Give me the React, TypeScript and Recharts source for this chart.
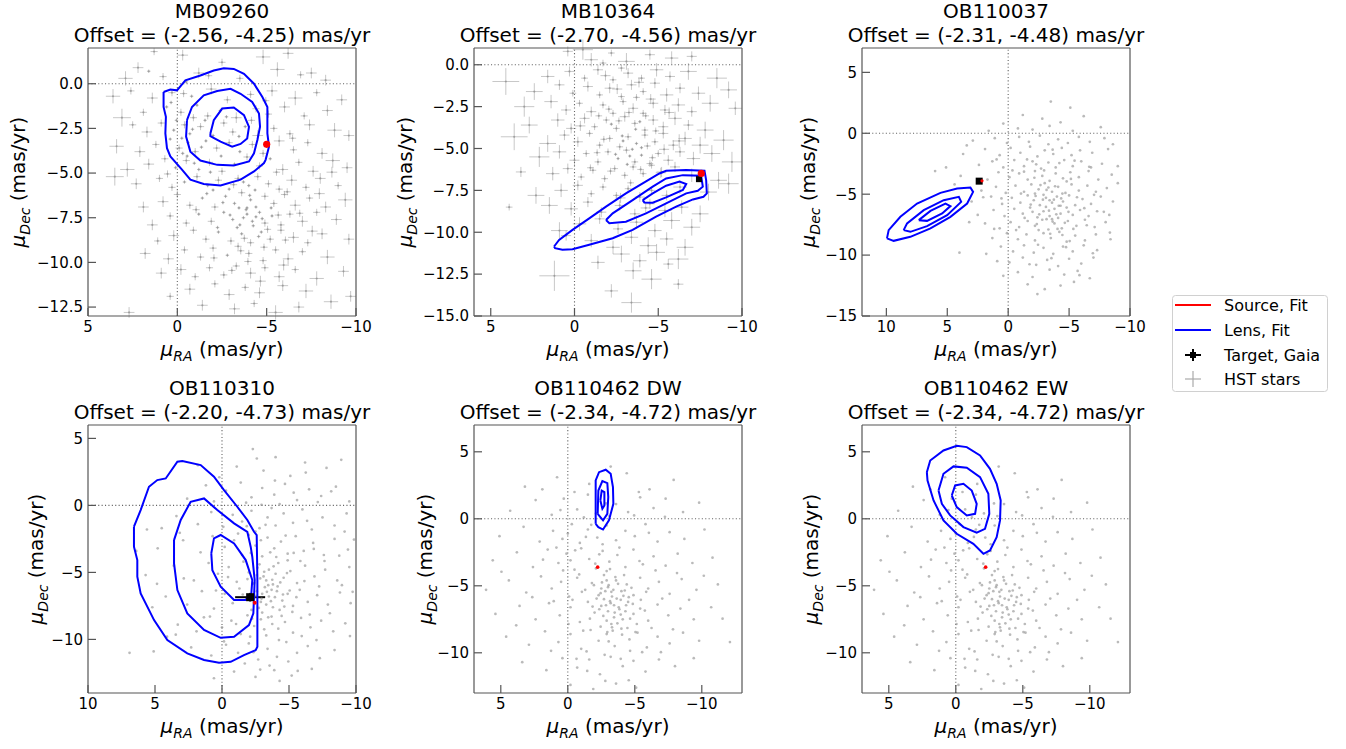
import React from "react";
import { ScatterChart, Scatter, XAxis, YAxis, ReferenceLine, ErrorBar } from "recharts";

type Pt = number[];

// HST stars with error bars: [muRA, muDec, err] (mas/yr)
const mb09260Stars: Pt[] = [
  [-0.3,1.6,0.3],[-2.5,1.2,0.2],[-4.8,1.5,0.4],[2.2,0.9,0.3],[-7.5,0.6,0.3],[1.3,1.8,0.2],[-6.2,1.7,0.3],
  [0.8,0.4,0.2],[-1.2,0.6,0.3],[-3.5,0.3,0.2],[-5.6,0.8,0.4],[-8.3,0.2,0.3],[2.9,0.3,0.4],[-0.5,0.1,0.1],[-6.9,0.5,0.2],[1.6,0.7,0.1],
  [0.3,-0.5,0.2],[-0.8,-0.7,0.1],[-1.9,-0.3,0.3],[-2.8,-0.9,0.2],[-4.1,-0.6,0.2],[-5.3,-0.4,0.3],[-6.6,-0.8,0.4],[-7.8,-0.5,0.2],[1.4,-0.8,0.3],[2.6,-0.4,0.2],[-9.2,-0.9,0.3],[3.6,-0.7,0.4],
  [0.6,-1.3,0.1],[-0.2,-1.6,0.2],[-1.1,-1.2,0.1],[-1.7,-1.8,0.2],[-2.4,-1.5,0.1],[-3.3,-1.9,0.3],[-4.4,-1.4,0.2],[-5.1,-1.7,0.2],[-6.0,-1.3,0.3],[-7.1,-1.8,0.2],[-8.4,-1.5,0.3],[1.9,-1.6,0.2],[3.1,-1.9,0.5],[-0.9,-1.9,0.2],
  [0.9,-2.2,0.2],[0.2,-2.6,0.1],[-0.4,-2.3,0.2],[-0.7,-2.8,0.1],[-1.3,-2.4,0.2],[-2.0,-2.9,0.1],[-2.6,-2.2,0.2],[-3.1,-2.7,0.2],[-3.8,-2.4,0.1],[-4.5,-2.9,0.3],[-5.4,-2.5,0.2],[-6.3,-2.8,0.2],[-7.4,-2.3,0.3],[-8.8,-2.6,0.4],[1.7,-2.7,0.3],[2.5,-2.3,0.2],[-9.6,-2.9,0.3],
  [1.2,-3.4,0.2],[0.4,-3.1,0.1],[-0.1,-3.6,0.2],[-0.6,-3.3,0.1],[-1.0,-3.8,0.2],[-1.6,-3.2,0.1],[-2.2,-3.6,0.2],[-2.9,-3.3,0.2],[-3.5,-3.8,0.1],[-4.2,-3.4,0.2],[-4.8,-3.9,0.2],[-5.7,-3.2,0.3],[-6.5,-3.7,0.2],[-7.3,-3.3,0.2],[-8.1,-3.9,0.3],[2.1,-3.8,0.3],[3.4,-3.5,0.4],[-0.3,-3.9,0.1],
  [1.6,-4.5,0.3],[0.7,-4.2,0.2],[0.1,-4.7,0.1],[-0.5,-4.3,0.2],[-1.2,-4.8,0.1],[-1.8,-4.4,0.2],[-2.5,-4.9,0.2],[-3.2,-4.5,0.1],[-3.9,-4.1,0.2],[-4.6,-4.6,0.2],[-5.2,-4.2,0.1],[-5.9,-4.8,0.3],[-6.8,-4.4,0.2],[-7.6,-4.9,0.3],[-8.7,-4.3,0.4],[2.8,-4.8,0.4],[-9.5,-4.7,0.3],
  [1.0,-5.3,0.2],[0.3,-5.8,0.2],[-0.4,-5.5,0.1],[-1.1,-5.2,0.2],[-1.7,-5.7,0.1],[-2.3,-5.4,0.2],[-2.9,-5.9,0.1],[-3.4,-5.3,0.2],[-4.0,-5.7,0.1],[-4.5,-5.2,0.2],[-5.1,-5.6,0.2],[-5.7,-5.9,0.2],[-6.4,-5.4,0.3],[-7.2,-5.8,0.2],[-8.0,-5.3,0.3],[-9.0,-5.7,0.2],[2.3,-5.6,0.3],[3.5,-5.2,0.5],[-2.0,-5.95,0.1],[-3.7,-5.5,0.1],
  [0.8,-6.6,0.3],[0.0,-6.2,0.2],[-0.7,-6.8,0.2],[-1.4,-6.4,0.1],[-2.1,-6.9,0.2],[-2.7,-6.3,0.1],[-3.2,-6.7,0.1],[-3.6,-6.1,0.2],[-4.1,-6.5,0.1],[-4.4,-6.9,0.1],[-4.9,-6.3,0.2],[-5.4,-6.7,0.2],[-6.0,-6.2,0.2],[-6.6,-6.8,0.3],[-7.4,-6.4,0.2],[-8.3,-6.9,0.3],[1.9,-6.9,0.3],[-3.9,-6.95,0.1],[-9.4,-6.5,0.4],
  [0.4,-7.4,0.2],[-0.5,-7.8,0.2],[-1.2,-7.3,0.1],[-1.9,-7.7,0.2],[-2.6,-7.2,0.1],[-3.1,-7.6,0.1],[-3.5,-7.9,0.1],[-3.9,-7.3,0.1],[-4.2,-7.7,0.1],[-4.6,-7.2,0.1],[-4.9,-7.8,0.2],[-5.3,-7.4,0.1],[-5.8,-7.9,0.2],[-6.3,-7.3,0.2],[-7.0,-7.7,0.3],[-7.8,-7.2,0.2],[-8.9,-7.6,0.3],[1.4,-7.9,0.3],[-4.4,-7.45,0.1],[-3.7,-7.5,0.1],
  [0.2,-8.5,0.3],[-0.9,-8.2,0.2],[-1.6,-8.7,0.2],[-2.3,-8.3,0.1],[-3.0,-8.8,0.2],[-3.6,-8.4,0.1],[-4.1,-8.9,0.2],[-4.7,-8.3,0.1],[-5.2,-8.7,0.2],[-5.8,-8.2,0.2],[-6.5,-8.6,0.3],[-7.3,-8.9,0.2],[-8.1,-8.4,0.3],[1.1,-8.8,0.2],[-9.6,-8.7,0.3],
  [0.5,-9.8,0.3],[-0.4,-9.3,0.2],[-1.3,-9.7,0.2],[-2.0,-9.2,0.2],[-2.8,-9.6,0.1],[-3.4,-9.1,0.2],[-4.0,-9.5,0.2],[-4.8,-9.9,0.2],[-5.5,-9.3,0.2],[-6.2,-9.8,0.3],[-7.0,-9.4,0.2],[-8.4,-9.7,0.4],[1.8,-9.5,0.3],
  [-0.2,-10.4,0.3],[-1.0,-10.8,0.2],[-1.8,-10.3,0.2],[-2.6,-10.7,0.2],[-3.3,-10.2,0.2],[-4.1,-10.6,0.3],[-4.9,-10.3,0.2],[-5.7,-10.8,0.3],[-6.6,-10.4,0.2],[-7.8,-10.9,0.4],[0.9,-10.6,0.3],[-9.3,-10.5,0.3],
  [-0.7,-11.5,0.3],[-2.1,-11.2,0.2],[-2.9,-11.8,0.3],[-3.8,-11.4,0.2],[-4.6,-11.7,0.3],[-5.9,-11.3,0.3],[-7.2,-11.6,0.4],[0.4,-11.9,0.2],[-9.7,-11.9,0.3],
  [-1.4,-12.4,0.3],[-3.2,-12.6,0.3],[-4.3,-12.3,0.2],[-5.5,-12.8,0.4],[-6.8,-12.5,0.3],[2.7,-12.8,0.3],[-8.6,-12.2,0.4],
  [-3.85,-7.05,0.1],[-4.25,-7.95,0.1],[-3.35,-8.05,0.1],[-4.75,-7.55,0.1],[-4.05,-6.25,0.1],[-3.45,-6.95,0.1],[-5.05,-8.15,0.2],[-2.95,-7.35,0.1],[-4.55,-8.55,0.1],[-3.75,-8.65,0.2],
  [-5.25,-6.95,0.1],[-2.55,-6.65,0.1],[-4.35,-5.95,0.1],[-3.15,-5.65,0.2],[-5.65,-7.35,0.2],[-2.25,-8.05,0.1],[-4.85,-9.15,0.2],[-3.55,-9.35,0.2],[-6.05,-8.75,0.2],[-1.65,-6.15,0.1],
  [-0.25,-3.05,0.1],[-0.85,-2.55,0.1],[-0.55,-4.05,0.1],[0.05,-2.05,0.1],[-1.35,-3.55,0.1],[-0.95,-4.45,0.1],[-1.55,-2.05,0.1],[0.35,-1.05,0.1],[-0.35,-0.55,0.2],[-1.85,-4.95,0.1],
  [-2.45,-4.05,0.1],[-3.45,-2.95,0.1],[-2.75,-1.85,0.1],[-4.15,-2.05,0.2],[-5.55,-4.95,0.2],[-6.15,-6.05,0.2],[-6.85,-7.25,0.2],[-7.55,-8.25,0.3],[-5.95,-10.15,0.3],[-3.05,-10.45,0.2],
  [-2.05,-9.75,0.2],[-1.05,-7.05,0.2],[0.55,-5.05,0.2],[-7.95,-6.15,0.3],[-8.65,-4.95,0.3],[-6.45,-3.05,0.2],[-4.95,-0.95,0.2],[-1.75,0.45,0.2],[-3.95,-9.95,0.2],[-4.65,-11.05,0.3],
];

const mb10364Stars: Pt[] = [
  [0.4,0.8,0.3],[-1.0,0.3,0.4],[-2.2,0.7,0.2],[-3.1,0.2,0.5],[-4.5,0.6,0.3],[-5.8,0.4,0.4],[-0.5,0.9,0.6],[-7.0,0.5,0.3],[-1.7,0.1,0.2],
  [1.6,-0.7,0.4],[0.3,-0.4,0.3],[-0.6,-0.8,0.2],[-1.4,-0.3,0.3],[-2.3,-0.9,0.2],[-3.2,-0.5,0.3],[-4.0,-0.8,0.2],[-4.9,-0.3,0.4],[-5.7,-0.7,0.3],[-6.8,-0.4,0.5],[-8.5,-0.8,0.6],[4.1,-1.0,0.8],[-2.8,-0.2,0.2],
  [2.4,-1.6,0.5],[0.9,-1.2,0.3],[0.1,-1.7,0.2],[-0.8,-1.3,0.3],[-1.5,-1.8,0.2],[-2.1,-1.4,0.3],[-2.8,-1.9,0.2],[-3.4,-1.2,0.3],[-4.1,-1.6,0.2],[-4.8,-1.1,0.3],[-5.5,-1.8,0.4],[-6.3,-1.4,0.3],[-7.4,-1.7,0.4],[-9.2,-1.5,0.5],[-3.7,-1.95,0.2],
  [3.0,-2.5,0.6],[1.4,-2.2,0.4],[0.5,-2.7,0.3],[-0.3,-2.3,0.2],[-1.0,-2.8,0.3],[-1.7,-2.4,0.2],[-2.3,-2.9,0.2],[-2.9,-2.2,0.2],[-3.5,-2.6,0.3],[-4.1,-2.9,0.2],[-4.7,-2.3,0.3],[-5.4,-2.7,0.3],[-6.2,-2.4,0.4],[-7.0,-2.8,0.3],[-8.1,-2.3,0.5],[-9.6,-2.6,0.4],
  [2.7,-3.6,0.5],[1.0,-3.3,0.4],[0.2,-3.8,0.3],[-0.6,-3.2,0.3],[-1.2,-3.7,0.2],[-1.9,-3.3,0.2],[-2.5,-3.8,0.2],[-3.0,-3.1,0.3],[-3.6,-3.5,0.2],[-4.2,-3.9,0.2],[-4.7,-3.3,0.3],[-5.3,-3.7,0.3],[-6.0,-3.2,0.4],[-6.8,-3.6,0.3],[-7.8,-3.9,0.5],[-2.2,-3.55,0.1],[-3.9,-3.4,0.1],
  [3.6,-4.3,0.8],[1.6,-4.7,0.5],[0.6,-4.2,0.3],[-0.2,-4.6,0.3],[-0.9,-4.1,0.2],[-1.5,-4.8,0.2],[-2.1,-4.4,0.2],[-2.7,-4.9,0.2],[-3.2,-4.3,0.2],[-3.7,-4.7,0.1],[-4.2,-4.2,0.2],[-4.8,-4.6,0.2],[-5.3,-4.1,0.3],[-5.9,-4.8,0.3],[-6.6,-4.4,0.4],[-7.5,-4.8,0.5],[-8.9,-4.5,0.6],[-2.9,-4.55,0.1],[-4.0,-4.95,0.1],
  [2.1,-5.5,0.6],[0.9,-5.2,0.4],[0.0,-5.7,0.3],[-0.7,-5.3,0.2],[-1.4,-5.8,0.2],[-2.0,-5.2,0.2],[-2.6,-5.6,0.1],[-3.1,-5.1,0.2],[-3.6,-5.8,0.2],[-4.0,-5.4,0.1],[-4.5,-5.9,0.2],[-5.0,-5.3,0.2],[-5.6,-5.7,0.3],[-6.3,-5.2,0.3],[-7.1,-5.6,0.4],[-8.2,-5.3,0.5],[-3.3,-5.45,0.1],[-9.4,-5.8,0.6],
  [1.3,-6.5,0.4],[0.4,-6.2,0.3],[-0.4,-6.7,0.2],[-1.1,-6.3,0.2],[-1.8,-6.8,0.2],[-2.4,-6.2,0.2],[-3.0,-6.6,0.2],[-3.5,-6.1,0.2],[-4.1,-6.5,0.2],[-4.6,-6.0,0.2],[-5.2,-6.4,0.3],[-6.0,-6.1,0.3],[-7.0,-6.6,0.4],[-8.6,-6.9,0.5],[3.2,-6.4,0.3],
  [0.8,-7.5,0.4],[-0.2,-7.2,0.3],[-1.0,-7.7,0.2],[-1.7,-7.3,0.2],[-2.5,-7.8,0.2],[-3.2,-7.4,0.2],[-3.9,-7.9,0.3],[-4.6,-7.5,0.2],[-5.5,-7.8,0.3],[-6.3,-7.3,0.4],[-8.0,-7.6,0.5],[-9.2,-7.1,0.6],[2.3,-7.8,0.5],
  [0.2,-8.6,0.4],[-0.8,-8.2,0.3],[-1.6,-8.8,0.3],[-2.7,-8.4,0.3],[-3.6,-8.9,0.3],[-4.5,-8.3,0.3],[-5.4,-8.7,0.4],[-6.4,-8.5,0.4],[-7.5,-8.9,0.5],[1.5,-8.4,0.5],
  [-0.3,-9.5,0.4],[-1.5,-9.2,0.3],[-2.6,-9.8,0.3],[-3.7,-9.4,0.4],[-4.8,-9.9,0.4],[-5.8,-9.3,0.5],[-7.0,-9.7,0.5],[0.9,-9.9,0.5],
  [-1.0,-10.5,0.4],[-2.3,-10.9,0.4],[-3.4,-10.3,0.4],[-4.4,-10.8,0.5],[-5.5,-10.4,0.4],[-6.6,-10.9,0.5],[0.5,-10.2,0.3],
  [-2.8,-11.3,0.5],[-3.9,-11.7,0.4],[-4.9,-11.2,0.5],[-6.2,-11.6,0.6],[-1.4,-11.8,0.4],[-5.6,-11.9,0.3],
  [1.2,-12.6,0.9],[-3.5,-12.3,0.5],[-4.6,-12.8,0.6],[-6.2,-13.1,0.3],[-3.4,-14.2,0.6],[-2.2,-13.5,0.4],[3.9,-8.5,0.2],
  [-2.85,-4.25,0.1],[-3.45,-5.05,0.1],[-4.35,-4.85,0.2],[-3.15,-5.95,0.1],[-2.45,-5.35,0.1],[-3.95,-6.25,0.2],[-4.65,-5.55,0.2],[-2.15,-6.35,0.2],[-3.65,-3.85,0.1],[-1.75,-4.45,0.2],
  [-4.85,-3.95,0.2],[-2.65,-3.35,0.2],[-5.35,-5.05,0.3],[-1.35,-5.25,0.2],[-3.25,-2.85,0.2],[-4.25,-3.05,0.2],[-2.05,-2.65,0.2],[-1.45,-3.05,0.2],[-5.15,-6.45,0.3],[-3.35,-7.05,0.2],
  [-0.95,-6.15,0.2],[-0.35,-3.65,0.3],[-2.55,-1.45,0.3],[-4.55,-2.05,0.3],[-3.85,-1.05,0.3],[-1.85,-0.65,0.3],[-5.65,-2.85,0.3],[-6.25,-4.55,0.4],[-2.75,-7.95,0.3],[-4.25,-8.55,0.3],
];

// dot-only star fields: [muRA, muDec]
const ob110037Stars: Pt[] = [
  [-3.5,2.6],[-5.1,2.1],[-1.2,1.5],[-2.8,1.2],[-4.3,0.9],[-6.2,1.4],[0.4,0.8],[-7.6,0.5],[-2.0,0.3],[-3.4,0.6],[-5.3,0.2],[1.6,0.2],[-0.8,0.4],
  [2.9,-0.6],[1.1,-0.4],[0.1,-0.8],[-0.9,-0.3],[-1.7,-0.7],[-2.6,-0.2],[-3.3,-0.9],[-4.1,-0.5],[-4.9,-0.8],[-5.8,-0.3],[-6.7,-0.7],[-7.9,-0.4],[-8.6,-0.9],
  [3.7,-1.7],[1.9,-1.3],[0.7,-1.8],[-0.2,-1.2],[-1.0,-1.6],[-1.8,-1.1],[-2.4,-1.9],[-3.0,-1.4],[-3.7,-1.7],[-4.4,-1.2],[-5.2,-1.8],[-5.9,-1.4],[-6.9,-1.6],[-8.2,-1.3],
  [2.4,-2.6],[1.3,-2.3],[0.4,-2.8],[-0.5,-2.2],[-1.3,-2.7],[-2.0,-2.3],[-2.7,-2.9],[-3.3,-2.4],[-3.9,-2.8],[-4.6,-2.2],[-5.3,-2.7],[-6.0,-2.3],[-6.8,-2.8],[-7.7,-2.5],[-9.0,-2.7],[-2.3,-2.55],[-4.2,-2.45],
  [3.9,-3.5],[1.7,-3.8],[0.8,-3.2],[-0.1,-3.6],[-0.9,-3.3],[-1.6,-3.8],[-2.2,-3.1],[-2.8,-3.5],[-3.4,-3.9],[-3.9,-3.3],[-4.5,-3.7],[-5.1,-3.2],[-5.8,-3.6],[-6.6,-3.1],[-7.4,-3.8],[-8.5,-3.4],[-1.3,-3.15],[-4.8,-3.95],
  [4.4,-4.2],[2.2,-4.7],[1.0,-4.4],[0.2,-4.9],[-0.6,-4.3],[-1.3,-4.8],[-1.9,-4.2],[-2.5,-4.6],[-3.0,-4.1],[-3.6,-4.8],[-4.1,-4.4],[-4.7,-4.9],[-5.2,-4.2],[-5.8,-4.7],[-6.5,-4.3],[-7.2,-4.8],[-8.1,-4.5],[-9.0,-4.1],[-2.2,-4.95],[-3.3,-4.45],
  [3.0,-5.6],[1.4,-5.2],[0.5,-5.8],[-0.3,-5.3],[-1.0,-5.7],[-1.6,-5.1],[-2.1,-5.5],[-2.6,-5.9],[-3.1,-5.3],[-3.6,-5.7],[-4.0,-5.2],[-4.5,-5.6],[-5.0,-5.1],[-5.5,-5.9],[-6.1,-5.4],[-6.8,-5.8],[-7.6,-5.2],[-8.6,-5.6],[-2.9,-5.05],[-4.3,-5.95],[-3.4,-5.5],
  [2.5,-6.7],[1.2,-6.3],[0.3,-6.8],[-0.5,-6.2],[-1.2,-6.6],[-1.8,-6.1],[-2.4,-6.9],[-2.9,-6.4],[-3.4,-6.8],[-3.8,-6.2],[-4.3,-6.6],[-4.8,-6.1],[-5.3,-6.7],[-5.9,-6.3],[-6.6,-6.8],[-7.3,-6.4],[-8.3,-6.7],[-3.1,-6.05],[-4.1,-6.95],[-2.0,-6.45],
  [1.9,-7.4],[0.7,-7.8],[-0.2,-7.3],[-0.9,-7.7],[-1.6,-7.2],[-2.2,-7.6],[-2.8,-7.1],[-3.3,-7.9],[-3.8,-7.4],[-4.4,-7.8],[-4.9,-7.2],[-5.6,-7.6],[-6.3,-7.1],[-7.1,-7.7],[-8.0,-7.3],[-3.6,-7.05],[-2.5,-7.95],
  [1.3,-8.6],[0.1,-8.2],[-0.8,-8.7],[-1.5,-8.3],[-2.2,-8.8],[-2.9,-8.2],[-3.5,-8.6],[-4.2,-8.1],[-4.8,-8.9],[-5.5,-8.4],[-6.3,-8.8],[-7.2,-8.3],[-8.4,-8.7],
  [0.6,-9.3],[-0.4,-9.7],[-1.3,-9.2],[-2.1,-9.8],[-2.9,-9.4],[-3.7,-9.9],[-4.5,-9.3],[-5.3,-9.7],[-6.2,-9.2],[-7.3,-9.6],[1.8,-9.9],
  [-0.1,-10.6],[-1.2,-10.2],[-2.3,-10.8],[-3.2,-10.4],[-4.1,-10.9],[-5.0,-10.3],[-6.0,-10.7],[-7.0,-10.2],[0.9,-10.5],
  [-0.8,-11.4],[-2.0,-11.8],[-3.4,-11.2],[-4.6,-11.6],[-5.7,-11.3],[-6.7,-11.9],[0.4,-11.7],
  [-1.6,-12.4],[-3.0,-12.8],[-4.3,-12.5],[-5.4,-12.2],[-2.4,-13.2],
  [6.0,-3.1],[5.1,-2.8],[3.2,-7.3],[4.0,-9.8],[3.4,-1.0],
  [-2.85,-5.45],[-3.35,-6.35],[-4.15,-5.95],[-3.65,-7.25],[-2.55,-6.65],[-4.65,-7.35],[-3.15,-4.65],[-4.35,-5.35],[-2.35,-7.45],[-3.85,-4.35],
  [-4.95,-6.45],[-3.45,-8.25],[-1.85,-5.85],[-4.45,-8.35],[-3.95,-6.65],[-2.65,-4.25],[-5.35,-7.85],[-3.75,-5.45],[-1.35,-6.95],[-5.65,-5.25],
  [-6.25,-6.15],[-2.15,-3.65],[-1.05,-4.95],[-0.65,-7.95],[-5.15,-3.75],[-6.45,-7.55],[-7.05,-5.05],[-4.75,-9.35],[-2.45,-9.15],[-3.55,-10.25],
  [-0.35,-3.05],[-1.55,-2.15],[-3.65,-1.35],[-5.45,-2.25],[0.55,-5.35],[1.15,-7.85],[-7.85,-6.45],[-8.35,-8.15],[-6.95,-9.85],[-5.85,-11.65],
  [-1.75,-10.75],[-2.95,-3.05],[-4.05,-7.85],[-3.15,-7.05],[-4.45,-4.95],[-2.25,-5.15],[-5.05,-8.85],[-6.65,-2.75],[0.95,-2.15],[2.05,-5.25],
];

const ob110310Stars: Pt[] = [
  [-2.3,4.2],[-4.0,3.6],[-6.2,3.2],[-1.1,2.9],[-3.1,2.6],[-5.1,2.2],[-7.8,2.8],[0.2,2.1],[-8.9,3.4],[1.8,3.0],[-2.6,3.5],
  [1.2,1.5],[-0.3,1.1],[-1.4,1.7],[-2.2,0.6],[-3.0,1.3],[-3.9,0.8],[-4.7,1.6],[-5.6,0.4],[-6.5,1.2],[-7.4,0.7],[-8.5,1.4],[-9.5,0.3],[2.6,0.5],[0.6,0.3],[-1.8,0.2],[-4.3,0.1],
  [3.4,-0.8],[1.8,-1.4],[0.8,-0.5],[-0.1,-1.6],[-0.8,-0.7],[-1.5,-1.2],[-2.2,-0.4],[-2.8,-1.7],[-3.4,-0.9],[-4.0,-1.5],[-4.6,-0.6],[-5.3,-1.3],[-6.0,-0.3],[-6.7,-1.8],[-7.5,-0.9],[-8.4,-1.5],[-9.3,-0.6],[4.5,-1.7],[-2.5,-1.95],[-3.7,-0.2],
  [4.8,-3.2],[2.9,-2.6],[1.6,-3.5],[0.7,-2.3],[-0.2,-3.1],[-0.9,-2.6],[-1.5,-3.7],[-2.0,-2.2],[-2.5,-3.0],[-3.0,-3.8],[-3.4,-2.4],[-3.9,-3.2],[-4.4,-2.7],[-4.9,-3.6],[-5.5,-2.3],[-6.1,-3.4],[-6.8,-2.8],[-7.6,-3.7],[-8.4,-2.5],[-9.4,-3.3],[-2.9,-2.6],[-3.6,-3.5],[-1.2,-2.1],
  [5.7,-5.2],[3.6,-4.5],[2.1,-5.6],[1.0,-4.3],[0.3,-5.1],[-0.5,-4.6],[-1.1,-5.7],[-1.6,-4.2],[-2.0,-5.0],[-2.4,-5.8],[-2.8,-4.4],[-3.1,-5.3],[-3.5,-4.8],[-3.8,-5.9],[-4.2,-4.3],[-4.6,-5.4],[-5.1,-4.9],[-5.6,-5.8],[-6.2,-4.5],[-6.9,-5.3],[-7.7,-4.8],[-8.6,-5.6],[-9.5,-4.6],[-3.3,-5.6],[-2.6,-5.2],[-4.0,-5.1],[-4.9,-4.1],[-1.9,-5.5],
  [4.2,-6.8],[2.6,-7.4],[1.5,-6.4],[0.6,-7.7],[-0.2,-6.6],[-0.8,-7.3],[-1.3,-6.2],[-1.8,-7.0],[-2.2,-7.8],[-2.6,-6.4],[-2.9,-7.2],[-3.2,-6.1],[-3.5,-6.8],[-3.8,-7.6],[-4.1,-6.4],[-4.5,-7.1],[-4.9,-6.6],[-5.3,-7.5],[-5.8,-6.3],[-6.4,-7.2],[-7.1,-6.7],[-7.9,-7.4],[-8.8,-6.5],[-9.6,-7.3],[-3.0,-6.6],[-3.7,-6.3],[-2.4,-6.9],[-4.3,-7.8],[-3.3,-7.4],
  [3.3,-8.9],[1.9,-9.4],[0.9,-8.3],[0.0,-9.1],[-0.7,-8.6],[-1.4,-9.6],[-1.9,-8.2],[-2.4,-9.0],[-2.9,-8.5],[-3.3,-9.7],[-3.7,-8.3],[-4.2,-9.2],[-4.7,-8.7],[-5.3,-9.5],[-5.9,-8.4],[-6.6,-9.1],[-7.4,-8.6],[-8.3,-9.4],[-9.2,-8.8],[-3.0,-8.0],[-2.1,-9.8],
  [2.3,-10.6],[0.8,-11.2],[-0.3,-10.4],[-1.2,-11.0],[-2.0,-10.3],[-2.7,-11.5],[-3.4,-10.7],[-4.1,-11.3],[-4.8,-10.2],[-5.6,-11.0],[-6.4,-10.5],[-7.3,-11.4],[-8.4,-10.8],[-1.7,-11.8],[5.1,-10.9],
  [-0.9,-12.4],[-2.5,-12.8],[-3.9,-12.3],[-5.2,-12.7],[-6.7,-12.2],[-4.3,-13.1],[0.6,-12.9],
  [6.4,-3.4],[5.2,-7.6],[4.1,-9.8],[6.9,-11.0],[5.6,-1.8],
  [-2.85,-5.45],[-3.35,-6.45],[-4.15,-6.05],[-3.65,-7.15],[-2.55,-6.75],[-4.65,-7.55],[-3.15,-4.95],[-4.35,-5.75],[-2.75,-7.65],[-3.85,-4.55],
  [-5.05,-6.35],[-3.45,-8.35],[-2.35,-5.85],[-4.45,-8.25],[-3.95,-6.85],[-2.65,-4.65],[-5.25,-7.95],[-3.75,-5.55],[-4.85,-5.05],[-5.55,-6.85],
  [-6.15,-5.65],[-6.55,-8.15],[-5.85,-4.15],[-7.25,-6.05],[-7.65,-4.15],[-8.05,-8.05],[-8.95,-5.95],[-9.75,-6.45],[-6.85,-3.25],[-5.95,-9.75],
  [-4.95,-11.65],[-3.55,-11.95],[-2.35,-10.95],[-7.05,-10.05],[-8.75,-3.75],[-9.15,-1.95],[-7.15,0.25],[-5.35,0.95],[-3.25,-1.45],[-4.75,-2.25],
  [-6.35,-1.15],[-2.15,-3.55],[-1.55,-6.65],[-1.05,-8.85],[-0.45,-5.35],[0.45,-6.35],[1.35,-8.35],[-0.15,-10.15],[2.85,-5.45],[3.45,-9.65],
  [-1.85,-1.55],[-2.95,0.05],[-3.95,1.85],[-6.25,2.45],[-8.15,1.05],[-9.55,-9.75],[-9.85,-2.55],[-3.15,-9.25],[-4.25,-10.05],[-5.65,-12.35],
  [-2.85,-12.25],[-4.05,-3.85],[-5.35,-3.55],[-3.45,-5.95],[-2.95,-6.95],[-4.55,-6.65],[-3.75,-8.85],[-2.25,-8.45],[4.85,-5.85],[3.15,-2.05],
];

const ob110462Stars: Pt[] = [
  [3.2,2.4],[0.8,3.1],[-1.6,2.6],[-4.4,3.4],[-6.1,2.2],[-7.9,2.9],[-0.5,2.0],[-3.2,3.9],[1.9,2.2],[-5.3,2.0],
  [4.3,0.6],[2.4,1.4],[1.2,0.3],[0.3,1.5],[-0.7,0.7],[-1.5,1.8],[-2.1,0.4],[-3.6,1.1],[-4.5,0.5],[-5.4,1.6],[-6.4,0.8],[-7.3,1.5],[-8.6,0.5],[-9.8,1.2],[-1.2,0.1],[-3.1,0.2],
  [5.1,-1.3],[3.3,-0.6],[2.1,-1.7],[1.1,-0.9],[0.4,-1.5],[-0.3,-0.4],[-0.9,-1.8],[-1.5,-0.8],[-2.2,-1.4],[-2.9,-0.5],[-3.6,-1.6],[-4.3,-0.9],[-5.0,-1.3],[-5.8,-0.4],[-6.7,-1.7],[-7.6,-1.0],[-8.7,-1.5],[-10.2,-0.8],[0.0,-1.1],[-2.6,-1.9],
  [5.6,-3.1],[3.8,-2.5],[2.6,-3.6],[1.5,-2.3],[0.7,-3.3],[0.1,-2.6],[-0.5,-3.8],[-1.0,-2.2],[-1.6,-3.0],[-2.1,-3.7],[-2.6,-2.4],[-3.1,-3.2],[-3.7,-2.7],[-4.3,-3.6],[-4.9,-2.3],[-5.6,-3.4],[-6.4,-2.8],[-7.3,-3.5],[-8.2,-2.6],[-9.3,-3.3],[-10.8,-2.9],[-0.2,-3.1],[-2.9,-3.9],
  [6.1,-5.3],[4.4,-4.6],[3.1,-5.5],[2.0,-4.3],[1.2,-5.2],[0.5,-4.7],[-0.1,-5.8],[-0.7,-4.4],[-1.3,-5.3],[-1.8,-4.8],[-2.3,-5.7],[-2.7,-4.2],[-3.0,-5.1],[-3.3,-5.8],[-3.6,-4.6],[-4.0,-5.4],[-4.4,-4.9],[-4.9,-5.7],[-5.4,-4.4],[-6.0,-5.2],[-6.8,-4.7],[-7.6,-5.6],[-8.5,-4.5],[-9.6,-5.3],[-11.2,-4.9],[-2.9,-4.6],[-3.4,-5.3],[-2.5,-5.2],[-4.2,-4.2],
  [5.4,-7.1],[3.6,-6.5],[2.4,-7.5],[1.4,-6.3],[0.6,-7.2],[-0.2,-6.6],[-0.9,-7.7],[-1.5,-6.2],[-2.0,-7.0],[-2.5,-6.5],[-2.9,-7.6],[-3.2,-6.3],[-3.5,-7.0],[-3.8,-6.6],[-4.1,-7.5],[-4.5,-6.2],[-4.9,-7.1],[-5.4,-6.7],[-6.0,-7.6],[-6.7,-6.4],[-7.5,-7.2],[-8.4,-6.7],[-9.4,-7.5],[-10.7,-6.6],[-3.7,-7.8],[-3.0,-6.9],[-4.3,-6.9],[-2.7,-6.0],
  [4.6,-8.8],[2.9,-9.4],[1.7,-8.4],[0.7,-9.2],[-0.2,-8.6],[-1.0,-9.7],[-1.7,-8.3],[-2.3,-9.1],[-2.9,-8.6],[-3.5,-9.5],[-4.0,-8.2],[-4.6,-9.0],[-5.2,-8.5],[-5.9,-9.6],[-6.7,-8.8],[-7.6,-9.3],[-8.6,-8.5],[-9.8,-9.1],[-3.3,-8.1],[-1.4,-9.9],
  [3.4,-10.7],[1.6,-11.3],[0.4,-10.4],[-0.7,-11.1],[-1.6,-10.5],[-2.4,-11.6],[-3.2,-10.3],[-4.1,-11.0],[-4.9,-10.6],[-5.8,-11.4],[-6.8,-10.5],[-8.0,-11.0],[-9.4,-10.4],[-12.1,-9.2],
  [-0.2,-12.4],[-1.9,-12.7],[-3.6,-12.3],[-5.1,-12.6],[-2.8,-12.1],
  [-2.8,-5.4],[-3.15,-6.15],[-3.95,-6.05],[-3.45,-7.35],[-2.35,-6.75],[-4.65,-7.45],[-3.05,-4.95],[-4.15,-5.75],[-2.65,-7.25],[-3.75,-4.85],
  [-4.85,-6.35],[-3.35,-8.35],[-2.15,-5.95],[-4.45,-8.15],[-3.85,-6.75],[-2.55,-4.75],[-5.15,-7.85],[-3.65,-5.95],[-1.85,-6.55],[-4.25,-5.35],
  [-3.25,-7.85],[-2.95,-8.45],[-4.75,-5.15],[-1.65,-7.45],[-3.55,-4.35],[-5.45,-6.05],[-2.45,-8.05],[-4.05,-8.65],[-1.95,-4.95],[-5.05,-8.45],
  [-3.15,-3.75],[-2.05,-3.35],[-0.85,-4.15],[-0.35,-6.05],[-1.15,-8.35],[-5.75,-6.85],[-6.25,-8.15],[-5.85,-5.45],[-0.55,-2.35],[-1.35,-1.35],
  [0.35,-3.85],[1.05,-6.15],[-6.55,-3.85],[-7.05,-5.95],[-4.65,-9.85],[-2.75,-10.15],[-3.95,-10.45],[-1.05,-5.45],[-0.05,-7.85],[1.85,-3.05],
  [2.65,-5.85],[-7.85,-8.25],[-8.15,-4.05],[-5.35,-3.15],[-2.35,-2.65],[-3.85,-2.15],[-1.75,-0.45],[0.85,-2.15],[-6.05,-1.05],[-4.95,0.25],
  [-9.05,-6.05],[-10.15,-4.25],[3.85,-7.95],[-0.65,-10.45],[-5.55,-9.95],[-6.95,-9.95],[1.25,-9.85],[-1.45,-11.35],[-4.55,-12.05],[4.95,-3.95],
  [-11.55,-7.45],[-2.85,1.15],[0.55,0.65],[-7.25,0.15],[-3.05,-9.15],[-3.45,-6.45],[-4.35,-6.45],[-2.85,-6.45],[-3.95,-7.15],[-3.25,-5.45],
  [-4.55,-5.85],[-2.45,-5.55],
];

// lens fit contours, outer -> inner: [muRA, muDec]
const mb09260Lens: Pt[][] = [
  [[0.77,-0.46],[0.39,-0.33],[0.02,-0.37],[-0.45,0.19],[-1.29,0.46],[-2.04,0.74],[-2.6,0.87],[-3.16,0.83],[-3.73,0.56],[-4.29,0],[-4.76,-0.74],[-5.04,-1.3],[-5.04,-2.78],[-5.13,-3.52],[-4.94,-4.26],[-4.85,-4.44],[-4.29,-4.91],[-3.54,-5.37],[-2.42,-5.7],[-1.48,-5.61],[-0.73,-5.37],[-0.26,-4.81],[0.39,-4.07],[0.58,-3.61],[0.67,-2.78],[0.64,-1.85],[0.77,-1.3],[0.77,-0.46]],
  [[-0.54,-2.04],[-0.82,-1.3],[-1.48,-0.65],[-2.23,-0.41],[-2.98,-0.28],[-3.54,-0.56],[-4.19,-1.02],[-4.57,-1.67],[-4.63,-2.41],[-4.48,-3.15],[-4.29,-3.89],[-4.01,-4.35],[-3.16,-4.57],[-2.23,-4.54],[-1.29,-4.3],[-0.73,-3.8],[-0.49,-2.96],[-0.54,-2.04]],
  [[-1.85,-2.78],[-2.04,-2.04],[-2.51,-1.39],[-3.16,-1.33],[-3.73,-1.76],[-4.01,-2.41],[-3.91,-3.06],[-3.54,-3.37],[-3.07,-3.52],[-2.42,-3.24],[-1.85,-2.93],[-1.85,-2.78]],
];
const mb10364Lens: Pt[][] = [
  [[1.22,-10.85],[0.92,-10.46],[0.12,-9.86],[-0.88,-9.17],[-1.88,-8.47],[-3.07,-7.68],[-4.07,-7.08],[-5.07,-6.49],[-5.47,-6.33],[-6.67,-6.29],[-7.76,-6.33],[-7.86,-6.88],[-7.9,-7.68],[-7.7,-7.88],[-7.07,-8.04],[-6.07,-8.47],[-4.87,-9.07],[-3.47,-9.86],[-2.28,-10.36],[-0.88,-10.75],[0.12,-11.01],[0.72,-11.05],[1.16,-10.95],[1.22,-10.85]],
  [[-1.88,-9.27],[-2.28,-8.87],[-3.47,-8.08],[-4.67,-7.28],[-5.47,-6.79],[-6.47,-6.59],[-7.56,-6.63],[-7.66,-7.28],[-7.36,-7.52],[-6.67,-7.68],[-5.47,-8.27],[-4.27,-8.87],[-3.07,-9.37],[-2.08,-9.46],[-1.88,-9.27]],
  [[-4.07,-8.08],[-4.67,-7.68],[-5.47,-7.22],[-6.27,-6.98],[-6.67,-7.12],[-6.47,-7.48],[-5.47,-7.92],[-4.67,-8.24],[-4.17,-8.22],[-4.07,-8.08]],
];
const ob110037Lens: Pt[][] = [
  [[9.95,-8.63],[9.81,-7.95],[8.85,-6.86],[7.48,-5.77],[5.56,-4.89],[4.19,-4.54],[3.1,-4.45],[2.88,-4.81],[3.37,-5.77],[4.74,-6.86],[6.38,-7.81],[8.03,-8.5],[9.4,-8.83],[9.95,-8.63]],
  [[8.58,-7.95],[8.3,-7.4],[6.93,-6.31],[5.29,-5.49],[4.05,-5.22],[3.86,-5.63],[5.01,-6.72],[6.66,-7.62],[8.03,-8.09],[8.58,-7.95]],
  [[7.34,-7.13],[6.38,-6.37],[5.15,-5.77],[4.74,-5.98],[5.42,-6.58],[6.66,-7.19],[7.34,-7.13]],
];
const ob110310Lens: Pt[][] = [
  [[6.57,-1.59],[6.07,-0.35],[5.45,1.39],[4.83,1.89],[4.2,2.01],[3.33,3.26],[2.96,3.31],[1.59,3.01],[0.6,2.14],[-0.15,1.14],[-1.14,-0.1],[-1.89,-1.09],[-2.39,-1.97],[-2.59,-2.21],[-2.64,-5.57],[-2.64,-10.55],[-2.51,-10.8],[-1.64,-11.17],[-0.65,-11.67],[0.22,-11.74],[1.34,-11.54],[2.59,-11.04],[4.08,-10.05],[5.07,-8.56],[6.07,-6.57],[6.32,-5.32],[6.32,-4.08],[6.57,-3.08],[6.57,-1.59]],
  [[3.58,-2.59],[3.08,-1.09],[2.34,0.27],[1.34,0.52],[0.35,-0.35],[-0.9,-1.34],[-1.89,-1.97],[-2.14,-3.08],[-2.26,-3.83],[-2.44,-5.57],[-2.34,-8.06],[-2.01,-8.93],[-0.9,-9.8],[0.1,-9.88],[1.34,-9.3],[2.59,-8.06],[3.33,-6.32],[3.58,-4.33],[3.58,-2.59]],
  [[0.8,-3.58],[0.6,-2.46],[0.1,-2.21],[-0.9,-2.84],[-1.77,-4.08],[-2.26,-5.57],[-2.19,-6.57],[-1.77,-7.06],[-0.9,-7.06],[0.1,-6.07],[0.72,-4.83],[0.8,-3.58]],
];
const ob110462DwLens: Pt[][] = [
  [[-2.08,-0.37],[-2.08,2.86],[-2.33,3.48],[-2.83,3.66],[-3.2,3.36],[-3.37,2.36],[-3.4,1.12],[-3.07,-0.12],[-2.63,-0.8],[-2.28,-0.62],[-2.08,-0.37]],
  [[-2.23,0.37],[-2.28,2.11],[-2.58,2.81],[-2.95,2.66],[-3.02,1.62],[-2.95,0.37],[-2.63,-0.12],[-2.23,0.37]],
  [[-2.43,1.37],[-2.53,2.11],[-2.73,1.99],[-2.73,1.0],[-2.58,0.75],[-2.43,1.37]],
];
const ob110462EwLens: Pt[][] = [
  [[2.16,3.48],[1.91,4.35],[0.92,5.1],[-0.07,5.45],[-0.82,5.35],[-1.81,4.73],[-2.55,3.73],[-3.05,2.61],[-3.35,1.37],[-3.3,-0.12],[-3.05,-1.37],[-2.55,-2.36],[-2.06,-2.61],[-1.31,-1.87],[-0.07,-1.12],[0.92,-0.12],[1.66,1.37],[2.11,2.86],[2.16,3.48]],
  [[1.29,2.11],[0.92,3.36],[0.17,3.91],[-0.82,3.81],[-1.81,3.11],[-2.43,1.87],[-2.5,0.37],[-2.18,-0.75],[-1.56,-1.04],[-0.57,-0.62],[0.42,0.25],[1.04,1.12],[1.29,2.11]],
  [[0.3,1.74],[0.05,2.49],[-0.57,2.61],[-1.19,2.11],[-1.56,1.12],[-1.44,0.37],[-0.82,0.25],[-0.07,0.87],[0.3,1.74]],
];

// source fit point and Gaia target [muRA, muDec, errRA, errDec]
const sourcePoints: Pt[] = [[-5.0,-3.39],[-7.57,-6.49],[2.15,-3.9],[-2.44,-7.27],[-2.23,-3.61],[-2.23,-3.61]];
const targetPoints: (Pt | null)[] = [null, [-7.43,-6.83,0.1,0.1], [2.38,-3.93,0.1,0.1], [-2.1,-6.85,1.12,0.32], null, null];

const titles = ["MB09260", "MB10364", "OB110037", "OB110310", "OB110462 DW", "OB110462 EW"];
const offsets = ["(-2.56, -4.25)", "(-2.70, -4.56)", "(-2.31, -4.48)", "(-2.20, -4.73)", "(-2.34, -4.72)", "(-2.34, -4.72)"];
const xDomains = [[-10, 5], [-10, 6], [-10, 12], [-10, 10], [-13, 7], [-13, 7]];
const yDomains = [[-13, 2], [-15, 1], [-15, 7], [-14, 6], [-13, 7], [-13, 7]];
const xTicks = [[5, 0, -5, -10], [5, 0, -5, -10], [10, 5, 0, -5, -10], [10, 5, 0, -5, -10], [5, 0, -5, -10], [5, 0, -5, -10]];
const yTicks = [
  [0, -2.5, -5, -7.5, -10, -12.5],
  [0, -2.5, -5, -7.5, -10, -12.5, -15],
  [5, 0, -5, -10, -15],
  [5, 0, -5, -10],
  [5, 0, -5, -10],
  [5, 0, -5, -10],
];
const yDecimals = [1, 1, 0, 0, 0, 0];

const starFields = [mb09260Stars, mb10364Stars, ob110037Stars, ob110310Stars, ob110462Stars, ob110462Stars];
const lensFields = [mb09260Lens, mb10364Lens, ob110037Lens, ob110310Lens, ob110462DwLens, ob110462EwLens];

// layout
const PLOT = 268;
const ML = 70, MT = 10, MR = 26, MB = 30;
const COL_X = [88, 474, 862];
const ROW_Y = [48, 425];
const YLABEL_X = [25, 412, 815, 43, 432, 818];
const XLABEL_Y = [356, 733];
const sourceR = [3.6, 3.6, 1.6, 2, 1.8, 1.8];
const targetSize = [0, 6, 7, 8, 0, 0];
const FONT = "'DejaVu Sans', sans-serif";
const FRAME = "#555";

const toXY = (pts: Pt[]) => pts.map((p) => ({ x: p[0], y: p[1], e: p[2] ?? 0, ex: p[2] ?? 0, ey: p[3] ?? 0 }));
const fmt = (dec: number) => (v: number) => (v < 0 ? "\u2212" : "") + Math.abs(v).toFixed(dec);

const NoShape = () => <g />;
const StarDot = (p: any) => <circle cx={p.cx} cy={p.cy} r={1.35} fill="#8c8c8c" fillOpacity={0.6} />;
const CrossDot = (p: any) => <circle cx={p.cx} cy={p.cy} r={1.1} fill="#8a8a8a" fillOpacity={0.6} />;

function Panel({ i }: { i: number }) {
  const col = i % 3;
  const row = Math.floor(i / 3);
  const xd = xDomains[i];
  const yd = yDomains[i];
  const crosses = i < 2;
  const target = targetPoints[i];
  const tsz = targetSize[i];
  const sr = sourceR[i];
  const line = { stroke: FRAME, strokeWidth: 1.2 };
  const tickText = { fill: "#000", fontSize: 15, fontFamily: FONT };
  const axisCommon = { type: "number" as const, allowDataOverflow: true, interval: 0 as const, tickSize: -8, axisLine: line, tickLine: line };

  return (
    <div style={{ position: "absolute", left: COL_X[col] - ML, top: ROW_Y[row] - MT }}>
      <ScatterChart
        width={ML + PLOT + MR}
        height={MT + PLOT + MB}
        margin={{ top: MT - 1, right: MR - 1, bottom: MB - 1, left: ML - 1 }}
      >
        <XAxis {...axisCommon} xAxisId="b" orientation="bottom" dataKey="x" domain={xd} reversed ticks={xTicks[i]} height={1} tickMargin={13} tick={tickText} tickFormatter={fmt(0)} />
        <XAxis {...axisCommon} xAxisId="t" orientation="top" dataKey="x" domain={xd} reversed ticks={xTicks[i]} height={1} tick={false} />
        <YAxis {...axisCommon} yAxisId="l" orientation="left" dataKey="y" domain={yd} ticks={yTicks[i]} width={1} tickMargin={13} tick={tickText} tickFormatter={fmt(yDecimals[i])} />
        <YAxis {...axisCommon} yAxisId="r" orientation="right" dataKey="y" domain={yd} ticks={yTicks[i]} width={1} tick={false} />

        <Scatter xAxisId="b" yAxisId="l" data={toXY(starFields[i])} shape={crosses ? CrossDot : StarDot} isAnimationActive={false}>
          {crosses && <ErrorBar dataKey="e" direction="x" width={0} stroke="#9a9a9a" strokeOpacity={0.55} strokeWidth={1} />}
          {crosses && <ErrorBar dataKey="e" direction="y" width={0} stroke="#9a9a9a" strokeOpacity={0.55} strokeWidth={1} />}
        </Scatter>

        <ReferenceLine xAxisId="b" yAxisId="l" x={0} stroke="#666" strokeWidth={1.1} strokeDasharray="1.1 2.3" />
        <ReferenceLine xAxisId="b" yAxisId="l" y={0} stroke="#666" strokeWidth={1.1} strokeDasharray="1.1 2.3" />

        {lensFields[i].map((c, k) => (
          <Scatter key={k} xAxisId="b" yAxisId="l" data={toXY(c)} line={{ stroke: "#0000ff", strokeWidth: 2 }} shape={NoShape} isAnimationActive={false} />
        ))}

        {target && (
          <Scatter
            xAxisId="b"
            yAxisId="l"
            data={toXY([target])}
            isAnimationActive={false}
            shape={(p: any) => <rect x={p.cx - tsz / 2} y={p.cy - tsz / 2} width={tsz} height={tsz} fill="#000" />}
          >
            <ErrorBar dataKey="ex" direction="x" width={0} stroke="#000" strokeWidth={2} />
            <ErrorBar dataKey="ey" direction="y" width={0} stroke="#000" strokeWidth={2} />
          </Scatter>
        )}

        <Scatter
          xAxisId="b"
          yAxisId="l"
          data={toXY([sourcePoints[i]])}
          isAnimationActive={false}
          shape={(p: any) => <circle cx={p.cx} cy={p.cy} r={sr} fill="#ff0000" />}
        />
      </ScatterChart>
    </div>
  );
}

function Labels() {
  return (
    <svg width={1346} height={749} style={{ position: "absolute", left: 0, top: 0, pointerEvents: "none" }}>
      {titles.map((t, i) => {
        const col = i % 3;
        const row = Math.floor(i / 3);
        const cx = COL_X[col] + PLOT / 2;
        const top = row === 0 ? 18 : 395;
        const cy = ROW_Y[row] + PLOT / 2;
        return (
          <g key={t} fontFamily={FONT} fill="#000">
            <text x={cx} y={top} fontSize={20} textAnchor="middle">{t}</text>
            <text x={cx} y={top + 24} fontSize={20} textAnchor="middle">{`Offset = ${offsets[i]} mas/yr`}</text>
            <text x={cx} y={XLABEL_Y[row]} fontSize={20} textAnchor="middle">
              <tspan fontStyle="italic">μ</tspan>
              <tspan fontStyle="italic" fontSize={14} dy={5}>RA</tspan>
              <tspan dy={-5}> (mas/yr)</tspan>
            </text>
            <text transform={`translate(${YLABEL_X[i]},${cy}) rotate(-90)`} fontSize={20} textAnchor="middle">
              <tspan fontStyle="italic">μ</tspan>
              <tspan fontStyle="italic" fontSize={14} dy={5}>Dec</tspan>
              <tspan dy={-5}> (mas/yr)</tspan>
            </text>
          </g>
        );
      })}
    </svg>
  );
}

function LegendBox() {
  const items = ["Source, Fit", "Lens, Fit", "Target, Gaia", "HST stars"];
  const ys = [305, 330, 355, 379];
  return (
    <svg width={170} height={110} style={{ position: "absolute", left: 1165, top: 288 }}>
      <g transform="translate(-1165,-288)">
        <rect x={1172.5} y={295.5} width={155} height={96} rx={3} fill="#fff" stroke="#d0d0d0" strokeWidth={1} />
        <line x1={1175} x2={1211} y1={ys[0]} y2={ys[0]} stroke="#ff0000" strokeWidth={2} />
        <line x1={1175} x2={1211} y1={ys[1]} y2={ys[1]} stroke="#0000ff" strokeWidth={2} />
        <line x1={1185} x2={1201} y1={ys[2]} y2={ys[2]} stroke="#000" strokeWidth={2} />
        <line x1={1193} x2={1193} y1={ys[2] - 6} y2={ys[2] + 6} stroke="#000" strokeWidth={2} />
        <rect x={1190} y={ys[2] - 3} width={6} height={6} fill="#000" />
        <line x1={1185} x2={1201} y1={ys[3]} y2={ys[3]} stroke="#aaa" strokeWidth={1.2} />
        <line x1={1193} x2={1193} y1={ys[3] - 8} y2={ys[3] + 8} stroke="#aaa" strokeWidth={1.2} />
        {items.map((t, k) => (
          <text key={t} x={1224} y={ys[k] + 6} fontSize={16} fontFamily={FONT} fill="#000">{t}</text>
        ))}
      </g>
    </svg>
  );
}

export default function App() {
  return (
    <div style={{ position: "absolute", left: 0, top: 0, width: 1346, height: 749, background: "#fff" }}>
      {titles.map((t, i) => (
        <Panel key={t} i={i} />
      ))}
      <Labels />
      <LegendBox />
    </div>
  );
}
